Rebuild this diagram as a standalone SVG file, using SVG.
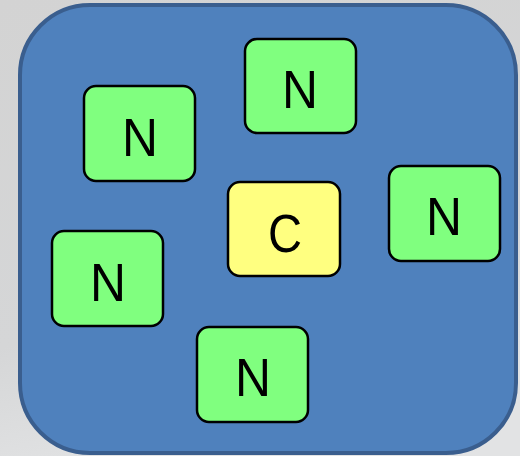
<svg xmlns="http://www.w3.org/2000/svg" width="520" height="456" viewBox="0 0 520 456">
<defs>
<linearGradient id="bg" x1="0" y1="0" x2="0.3" y2="1">
<stop offset="0" stop-color="#d3d3d3"/>
<stop offset="0.7" stop-color="#d5d6d7"/>
<stop offset="1" stop-color="#e2e3e4"/>
</linearGradient>
<style>
.n rect{fill:#80ff7f;stroke:#000;stroke-width:2.5}
.c rect{fill:#ffff80;stroke:#000;stroke-width:2.5}
text{font-family:"Liberation Sans",Arial,sans-serif;font-size:54px;fill:#000;text-anchor:middle}
</style>
</defs>
<rect width="520" height="456" fill="url(#bg)"/>
<g id="container">
<rect x="20" y="5" width="496" height="448" rx="70" fill="#4f81bd" stroke="#3a5e8e" stroke-width="4"/>
</g>
<g id="connectors"/>
<g id="n1" class="n"><rect x="84" y="86" width="111" height="95" rx="12"/><text x="140" y="156" textLength="36" lengthAdjust="spacingAndGlyphs">N</text></g>
<g id="n2" class="n"><rect x="245" y="39" width="111" height="94" rx="12"/><text x="300" y="108" textLength="36" lengthAdjust="spacingAndGlyphs">N</text></g>
<g id="n3" class="n"><rect x="389" y="166" width="111" height="95" rx="12"/><text x="444" y="235" textLength="36" lengthAdjust="spacingAndGlyphs">N</text></g>
<g id="n4" class="n"><rect x="52" y="231" width="111" height="95" rx="12"/><text x="108" y="301" textLength="36" lengthAdjust="spacingAndGlyphs">N</text></g>
<g id="n5" class="n"><rect x="197" y="327" width="111" height="95" rx="12"/><text x="253" y="396" textLength="36" lengthAdjust="spacingAndGlyphs">N</text></g>
<g id="c1" class="c"><rect x="228" y="182" width="112" height="94" rx="12"/><text x="285" y="252" textLength="34" lengthAdjust="spacingAndGlyphs">C</text></g>
</svg>
